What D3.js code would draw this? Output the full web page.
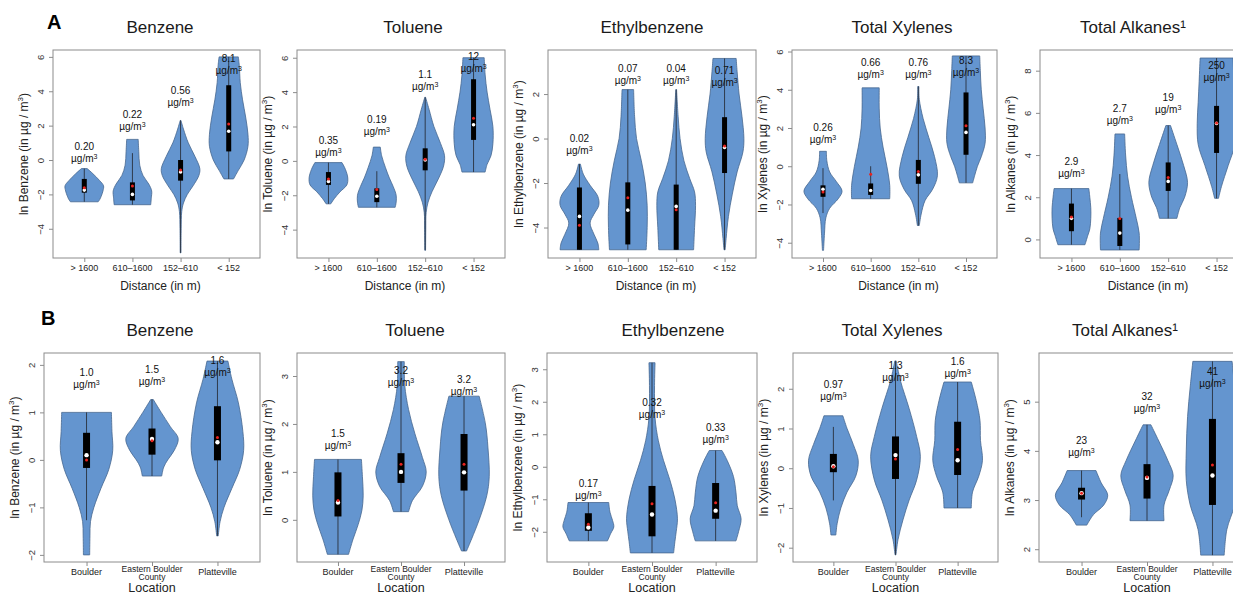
<!DOCTYPE html>
<html><head><meta charset="utf-8">
<script src="https://cdn.jsdelivr.net/npm/d3@7"></script>
<style>body{margin:0;background:#fff}svg{display:block;font-family:"Liberation Sans",Arial,sans-serif}</style>
</head><body><svg id="c" width="1233" height="595"></svg>
<script>
// ---------- DATA ----------
const distCats = ["> 1600", "610\u20131600", "152\u2013610", "< 152"];
const locCats = ["Boulder", "Eastern Boulder County", "Platteville"];
const compounds = ["Benzene", "Toluene", "Ethylbenzene", "Total Xylenes", "Total Alkanes\u00b9"];
const yNames = ["Benzene", "Toluene", "Ethylbenzene", "Xylenes", "Alkanes"];

// violin profiles: [ln value, relative density]; stats: [low, q1, median, mean, q3, high]
const a1Profiles = [
  [[-0.5,0.15],[-0.8,0.45],[-1.2,0.8],[-1.5,1.0],[-1.8,0.97],[-2.1,0.88],[-2.3,0.8],[-2.43,0.72]],
  [[1.2,0.3],[0.5,0.33],[-0.3,0.38],[-0.9,0.55],[-1.4,0.85],[-1.8,1.0],[-2.2,0.98],[-2.6,0.95]],
  [[2.3,0.02],[1.8,0.15],[1.0,0.4],[0.2,0.75],[-0.5,1.0],[-0.9,0.95],[-1.5,0.65],[-2.0,0.35],[-2.5,0.15],[-3.0,0.06],[-4.0,0.03],[-5.4,0.02]],
  [[6.0,0.5],[5.5,0.55],[4.5,0.6],[3.5,0.72],[2.5,0.88],[1.5,1.0],[0.8,1.0],[0.0,0.8],[-0.6,0.5],[-1.1,0.25]]
];
const a1Stats = [[-2.43,-1.9,-1.75,-1.61,-1.1,-0.5],[-2.6,-2.35,-2.0,-1.51,-1.3,0.4],[-5.4,-1.2,-0.7,-0.58,0.0,2.3],[-1.1,0.5,1.67,2.09,4.35,6.0]];
const a1Labels = ["0.20","0.22","0.56","8.1"];
const a1LabelAt = [0.82,2.65,4.1,5.95];
const a1Domain = [-5.7, 6.4];
const a1Ticks = [-4,-2,0,2,4,6];

const a2Profiles = [
  [[-0.1,0.7],[-0.5,0.88],[-1.0,1.0],[-1.4,0.95],[-1.8,0.6],[-2.2,0.3],[-2.5,0.12]],
  [[0.8,0.18],[0.3,0.25],[-0.4,0.45],[-1.0,0.65],[-1.5,0.85],[-2.0,1.0],[-2.4,1.0],[-2.7,0.95]],
  [[3.7,0.02],[3.0,0.2],[2.0,0.45],[1.0,0.8],[0.3,1.0],[-0.3,0.95],[-1.0,0.7],[-1.8,0.35],[-2.4,0.15],[-3.0,0.05],[-4.0,0.03],[-5.2,0.02]],
  [[6.0,0.55],[5.0,0.6],[4.0,0.7],[3.0,0.85],[2.0,1.0],[1.0,1.0],[0.3,0.9],[-0.2,0.7],[-0.65,0.6]]
];
const a2Stats = [[-2.5,-1.4,-1.2,-1.05,-0.65,-0.1],[-2.7,-2.4,-2.06,-1.66,-1.6,-0.6],[-5.2,-0.55,0.05,0.1,0.73,3.7],[-0.65,1.22,2.1,2.48,4.75,6.0]];
const a2Labels = ["0.35","0.19","1.1","12"];
const a2LabelAt = [1.22,2.45,5.06,6.12];
const a2Domain = [-5.65, 6.45];
const a2Ticks = [-4,-2,0,2,4,6];

const a3Profiles = [
  [[-1.15,0.05],[-1.6,0.2],[-2.1,0.55],[-2.6,0.95],[-3.0,1.0],[-3.4,0.75],[-3.8,0.55],[-4.3,0.75],[-4.7,0.95],[-5.0,1.0]],
  [[2.2,0.3],[1.0,0.35],[0.0,0.45],[-1.0,0.7],[-2.0,0.9],[-3.0,1.0],[-4.0,1.0],[-5.0,0.95]],
  [[2.2,0.02],[1.0,0.1],[0.0,0.2],[-1.0,0.4],[-1.8,0.7],[-2.4,0.95],[-3.0,1.0],[-4.0,0.95],[-5.0,0.9]],
  [[3.6,0.6],[3.0,0.65],[2.0,0.75],[1.0,0.9],[0.0,1.0],[-0.6,0.95],[-1.5,0.65],[-2.5,0.4],[-3.5,0.2],[-4.5,0.08],[-5.0,0.03]]
];
const a3Stats = [[-5.0,-5.0,-3.5,-3.9,-2.2,-1.15],[-5.0,-4.76,-3.22,-2.66,-1.97,2.2],[-5.0,-5.0,-3.05,-3.2,-2.07,2.2],[-5.0,-1.55,-0.4,-0.34,0.96,3.6]];
const a3Labels = ["0.02","0.07","0.04","0.71"];
const a3LabelAt = [0.04,3.15,3.15,3.07];
const a3Domain = [-5.37, 3.98];
const a3Ticks = [-4,-2,0,2];

const a4Profiles = [
  [[0.78,0.18],[0.3,0.2],[-0.3,0.35],[-0.8,0.7],[-1.3,1.0],[-1.7,0.8],[-2.2,0.35],[-2.7,0.15],[-3.5,0.08],[-4.4,0.03]],
  [[4.1,0.45],[3.0,0.45],[2.0,0.5],[1.0,0.65],[0.0,0.85],[-1.0,1.0],[-1.7,1.0]],
  [[4.17,0.03],[3.5,0.05],[2.5,0.25],[1.5,0.55],[0.5,0.85],[-0.5,1.0],[-1.2,0.75],[-1.8,0.35],[-2.5,0.15],[-3.1,0.05]],
  [[5.77,0.72],[5.0,0.75],[4.0,0.8],[3.0,0.9],[2.0,1.0],[1.2,1.0],[0.5,0.8],[0.0,0.6],[-0.5,0.45],[-0.87,0.35]]
];
const a4Stats = [[-2.45,-1.6,-1.2,-1.35,-1.0,-0.1],[-1.7,-1.5,-1.27,-0.42,-0.9,0.0],[-3.1,-0.92,-0.45,-0.27,0.33,4.17],[-0.87,0.6,1.77,2.12,3.86,5.77]];
const a4Labels = ["0.26","0.66","0.76","8.3"];
const a4LabelAt = [2.03,5.43,5.43,5.55];
const a4Domain = [-4.8, 6.08];
const a4Ticks = [-4,-2,0,2,4,6];

const a5Profiles = [
  [[2.41,0.9],[2.0,0.95],[1.5,1.0],[1.0,1.0],[0.5,0.95],[0.2,0.85],[-0.25,0.7]],
  [[5.0,0.25],[4.0,0.3],[3.0,0.4],[2.0,0.6],[1.0,0.85],[0.3,1.0],[-0.5,1.0]],
  [[5.4,0.12],[4.5,0.45],[3.5,0.8],[2.7,1.0],[2.0,0.85],[1.5,0.6],[1.0,0.45]],
  [[8.6,0.85],[7.5,0.9],[6.5,0.95],[5.5,1.0],[4.5,0.95],[3.5,0.6],[2.5,0.25],[1.95,0.1]]
];
const a5Stats = [[-0.25,0.39,1.0,1.06,1.7,2.41],[-0.5,-0.31,0.3,0.99,1.02,3.1],[1.0,2.3,2.75,2.94,3.65,5.4],[1.95,4.1,5.5,5.52,6.33,8.6]];
const a5Labels = ["2.9","2.7","19","250"];
const a5LabelAt = [3.7,6.22,6.77,8.27];
const a5Domain = [-0.88, 8.98];
const a5Ticks = [0,2,4,6,8];

const b1Profiles = [
  [[1.0,0.95],[0.6,0.97],[0.2,1.0],[-0.2,0.85],[-0.6,0.55],[-1.0,0.28],[-1.3,0.15],[-1.6,0.13],[-2.0,0.12]],
  [[1.27,0.05],[1.0,0.35],[0.7,0.7],[0.45,1.0],[0.2,0.85],[0.0,0.6],[-0.15,0.45],[-0.34,0.37]],
  [[2.08,0.4],[1.7,0.55],[1.2,0.8],[0.6,0.97],[0.2,1.0],[-0.2,0.85],[-0.6,0.55],[-1.0,0.25],[-1.3,0.1],[-1.6,0.03]]
];
const b1Stats = [[-1.27,-0.17,0.1,0.0,0.57,1.0],[-0.34,0.11,0.44,0.405,0.66,1.27],[-1.6,-0.01,0.37,0.47,1.13,2.08]];
const b1Labels = ["1.0","1.5","1.6"];
const b1LabelAt = [1.84,1.91,2.1];
const b1Domain = [-2.15, 2.25];
const b1Ticks = [-2,-1,0,1,2];

const b2Profiles = [
  [[1.26,0.93],[0.9,0.97],[0.5,1.0],[0.2,0.95],[-0.1,0.8],[-0.4,0.6],[-0.72,0.42]],
  [[3.3,0.13],[2.8,0.15],[2.3,0.3],[1.8,0.55],[1.3,0.85],[1.0,1.0],[0.7,0.85],[0.4,0.45],[0.17,0.3]],
  [[2.58,0.6],[2.0,0.85],[1.5,0.95],[0.9,1.0],[0.5,0.9],[0.0,0.6],[-0.4,0.3],[-0.65,0.1]]
];
const b2Stats = [[-0.72,0.07,0.36,0.405,0.99,1.26],[0.17,0.77,1.0,1.16,1.39,3.3],[-0.65,0.61,0.99,1.16,1.79,2.58]];
const b2Labels = ["1.5","3.2","3.2"];
const b2LabelAt = [1.82,3.12,2.94];
const b2Domain = [-0.88, 3.48];
const b2Ticks = [0,1,2,3];

const b3Profiles = [
  [[-1.1,0.8],[-1.4,0.85],[-1.65,0.95],[-1.85,1.0],[-2.05,0.88],[-2.28,0.75]],
  [[3.2,0.12],[2.5,0.1],[1.5,0.12],[0.8,0.25],[0.2,0.45],[-0.4,0.7],[-1.0,0.9],[-1.6,1.0],[-2.0,0.95],[-2.3,0.9],[-2.65,0.85]],
  [[0.5,0.25],[0.2,0.45],[-0.3,0.7],[-0.8,0.8],[-1.2,0.85],[-1.6,1.0],[-2.0,0.9],[-2.28,0.8]]
];
const b3Stats = [[-2.28,-1.97,-1.87,-1.77,-1.43,-1.1],[-2.65,-2.14,-1.47,-1.14,-0.59,3.2],[-2.28,-1.6,-1.35,-1.11,-0.5,0.5]];
const b3Labels = ["0.17","0.32","0.33"];
const b3LabelAt = [-0.51,1.99,1.22];
const b3Domain = [-2.93, 3.5];
const b3Ticks = [-2,-1,0,1,2,3];

const b4Profiles = [
  [[1.32,0.38],[1.0,0.55],[0.6,0.8],[0.2,1.0],[-0.2,0.9],[-0.6,0.55],[-1.0,0.3],[-1.4,0.15],[-1.68,0.1]],
  [[2.7,0.03],[2.2,0.2],[1.5,0.55],[0.8,0.85],[0.3,1.0],[-0.3,0.85],[-0.8,0.55],[-1.3,0.3],[-1.8,0.1],[-2.18,0.02]],
  [[2.17,0.55],[1.7,0.75],[1.2,0.9],[0.7,0.92],[0.2,1.0],[-0.2,0.85],[-0.6,0.6],[-1.0,0.55]]
];
const b4Stats = [[-0.81,-0.1,0.05,0.04,0.36,1.04],[-2.18,-0.27,0.33,0.23,0.8,2.7],[-1.0,-0.17,0.2,0.47,1.17,2.17]];
const b4Labels = ["0.97","1.3","1.6"];
const b4LabelAt = [2.11,2.59,2.71];
const b4Domain = [-2.36, 2.9];
const b4Ticks = [-2,-1,0,1,2];

const b5Profiles = [
  [[3.6,0.55],[3.35,0.75],[3.1,1.0],[2.9,0.85],[2.7,0.45],[2.49,0.2]],
  [[4.53,0.15],[4.2,0.45],[3.8,0.8],[3.5,1.0],[3.2,0.85],[2.9,0.65],[2.58,0.65]],
  [[5.82,0.75],[5.3,0.85],[4.7,0.95],[4.0,1.0],[3.4,1.0],[2.9,0.85],[2.4,0.55],[1.88,0.45]]
];
const b5Stats = [[2.65,3.01,3.14,3.14,3.25,3.6],[2.58,3.03,3.45,3.47,3.73,4.53],[1.88,2.9,3.5,3.71,4.65,5.82]];
const b5Labels = ["23","32","41"];
const b5LabelAt = [4.22,5.11,5.62];
const b5Domain = [1.74, 5.99];
const b5Ticks = [2,3,4,5];

// ---------- LAYOUT ----------
const svg = d3.select("#c");
const rowA = {top: 50, bottom: 258, lefts: [53,297,548,792,1040], widths: [207,208,208,205,208], titleX: [160,413,652,902,1133], titleY: 33, boxW: 5};
const rowB = {top: 353, bottom: 562, lefts: [44,297,547,793,1039], widths: [216,208,210,205,216], titleX: [160,415,673,892,1125], titleY: 336, boxW: 7};

const panels = [
  {row: rowA, i:0, cats: distCats, prof: a1Profiles, stats: a1Stats, labels: a1Labels, labelAt: a1LabelAt, dom: a1Domain, ticks: a1Ticks},
  {row: rowA, i:1, cats: distCats, prof: a2Profiles, stats: a2Stats, labels: a2Labels, labelAt: a2LabelAt, dom: a2Domain, ticks: a2Ticks},
  {row: rowA, i:2, cats: distCats, prof: a3Profiles, stats: a3Stats, labels: a3Labels, labelAt: a3LabelAt, dom: a3Domain, ticks: a3Ticks},
  {row: rowA, i:3, cats: distCats, prof: a4Profiles, stats: a4Stats, labels: a4Labels, labelAt: a4LabelAt, dom: a4Domain, ticks: a4Ticks},
  {row: rowA, i:4, cats: distCats, prof: a5Profiles, stats: a5Stats, labels: a5Labels, labelAt: a5LabelAt, dom: a5Domain, ticks: a5Ticks},
  {row: rowB, i:0, cats: locCats, prof: b1Profiles, stats: b1Stats, labels: b1Labels, labelAt: b1LabelAt, dom: b1Domain, ticks: b1Ticks},
  {row: rowB, i:1, cats: locCats, prof: b2Profiles, stats: b2Stats, labels: b2Labels, labelAt: b2LabelAt, dom: b2Domain, ticks: b2Ticks},
  {row: rowB, i:2, cats: locCats, prof: b3Profiles, stats: b3Stats, labels: b3Labels, labelAt: b3LabelAt, dom: b3Domain, ticks: b3Ticks},
  {row: rowB, i:3, cats: locCats, prof: b4Profiles, stats: b4Stats, labels: b4Labels, labelAt: b4LabelAt, dom: b4Domain, ticks: b4Ticks},
  {row: rowB, i:4, cats: locCats, prof: b5Profiles, stats: b5Stats, labels: b5Labels, labelAt: b5LabelAt, dom: b5Domain, ticks: b5Ticks}
];

const FILL = "#6495cf", EDGE = "#46678f", LINE = "#2f3b4c", FRAME = "#8c8c8c";

panels.forEach(p => {
  const r = p.row, L = r.lefts[p.i], W = r.widths[p.i];
  const x = d3.scalePoint().domain(p.cats).range([L, L + W]).padding(0.65);
  const y = d3.scaleLinear().domain(p.dom).range([r.bottom, r.top]);
  const half = x.step() * 0.4;
  const g = svg.append("g");

  // title
  g.append("text").attr("x", r.titleX[p.i]).attr("y", r.titleY).attr("text-anchor", "middle")
    .attr("font-size", 17).attr("fill", "#1a1a1a").text(compounds[p.i]);

  // y axis
  const ya = d3.axisLeft(y).tickValues(p.ticks).tickSize(4).tickFormat(d3.format("d"));
  const yg = g.append("g").attr("transform", `translate(${L},0)`).call(ya);
  yg.select(".domain").remove();
  yg.selectAll(".tick line").attr("stroke", FRAME);
  yg.selectAll(".tick text").attr("x", null).attr("dy", null)
    .attr("transform", "translate(-9,0) rotate(-90)").attr("text-anchor", "middle")
    .attr("font-size", 9.5).attr("fill", "#333").attr("font-family", "Liberation Sans, Arial");

  // x axis
  const xa = d3.axisBottom(x).tickSize(4).tickFormat(() => "");
  const xg = g.append("g").attr("transform", `translate(0,${r.bottom})`).call(xa);
  xg.select(".domain").remove();
  xg.selectAll(".tick line").attr("stroke", FRAME);
  p.cats.forEach(c => {
    if (r === rowB && c === "Eastern Boulder County") {
      const t = g.append("text").attr("x", x(c)).attr("y", r.bottom + 9.5).attr("text-anchor", "middle")
        .attr("font-size", 8.5).attr("fill", "#222");
      t.append("tspan").attr("x", x(c)).text("Eastern Boulder");
      t.append("tspan").attr("x", x(c)).attr("dy", 8).text("County");
    } else {
      g.append("text").attr("x", x(c)).attr("y", r.bottom + 13).attr("text-anchor", "middle")
        .attr("font-size", 9).attr("fill", "#222").text(c);
    }
  });
  if (r === rowA) {
    g.append("text").attr("x", L + W / 2 + 4).attr("y", r.bottom + 32).attr("text-anchor", "middle")
      .attr("font-size", 12).attr("fill", "#222").text("Distance (in m)");
  } else {
    g.append("text").attr("x", L + W / 2).attr("y", r.bottom + 29.5).attr("text-anchor", "middle")
      .attr("font-size", 12.5).attr("fill", "#222").text("Location");
  }

  // y label
  const yl = g.append("text").attr("transform", `translate(${L - 25},${(r.top + r.bottom) / 2}) rotate(-90)`)
    .attr("text-anchor", "middle").attr("font-size", 12).attr("fill", "#222");
  yl.append("tspan").text(`ln ${yNames[p.i]} (in \u00b5g / m`);
  yl.append("tspan").attr("font-size", 8).attr("dy", -5).text("3");
  yl.append("tspan").attr("dy", 5).text(")");

  // frame
  g.append("rect").attr("x", L).attr("y", r.top).attr("width", W).attr("height", r.bottom - r.top)
    .attr("fill", "none").attr("stroke", FRAME).attr("stroke-width", 1);

  // violins
  p.cats.forEach((c, k) => {
    const cx = x(c);
    const area = d3.area().curve(d3.curveCatmullRom.alpha(0.5))
      .y(d => y(d[0])).x0(d => cx - d[1] * half).x1(d => cx + d[1] * half);
    g.append("path").attr("d", area(p.prof[k])).attr("fill", FILL).attr("stroke", EDGE).attr("stroke-width", 0.8);
    const s = p.stats[k];
    g.append("line").attr("x1", cx).attr("x2", cx).attr("y1", y(s[0])).attr("y2", y(s[5]))
      .attr("stroke", LINE).attr("stroke-width", 1);
    g.append("rect").attr("x", cx - r.boxW / 2).attr("width", r.boxW).attr("y", y(s[4]))
      .attr("height", Math.max(1, y(s[1]) - y(s[4]))).attr("fill", "#000");
    g.append("circle").attr("cx", cx).attr("cy", y(s[2])).attr("r", r === rowA ? 1.8 : 2.2).attr("fill", "#fff");
    g.append("circle").attr("cx", cx).attr("cy", y(s[3])).attr("r", 1.5).attr("fill", "#e8231f");
    // concentration label
    const ly = y(p.labelAt[k]);
    g.append("text").attr("x", cx).attr("y", ly + 4).attr("text-anchor", "middle").attr("font-size", 10)
      .attr("fill", "#111").text(p.labels[k]);
    const u = g.append("text").attr("x", cx).attr("y", ly + 16).attr("text-anchor", "middle").attr("font-size", 10).attr("fill", "#111");
    u.append("tspan").text("\u00b5g/m");
    u.append("tspan").attr("font-size", 7).attr("dy", -3).text("3");
  });
});

// panel letters
svg.append("text").attr("x", 47).attr("y", 29).attr("font-size", 20).attr("font-weight", "bold").text("A");
svg.append("text").attr("x", 41).attr("y", 325).attr("font-size", 20).attr("font-weight", "bold").text("B");
</script></body></html>
